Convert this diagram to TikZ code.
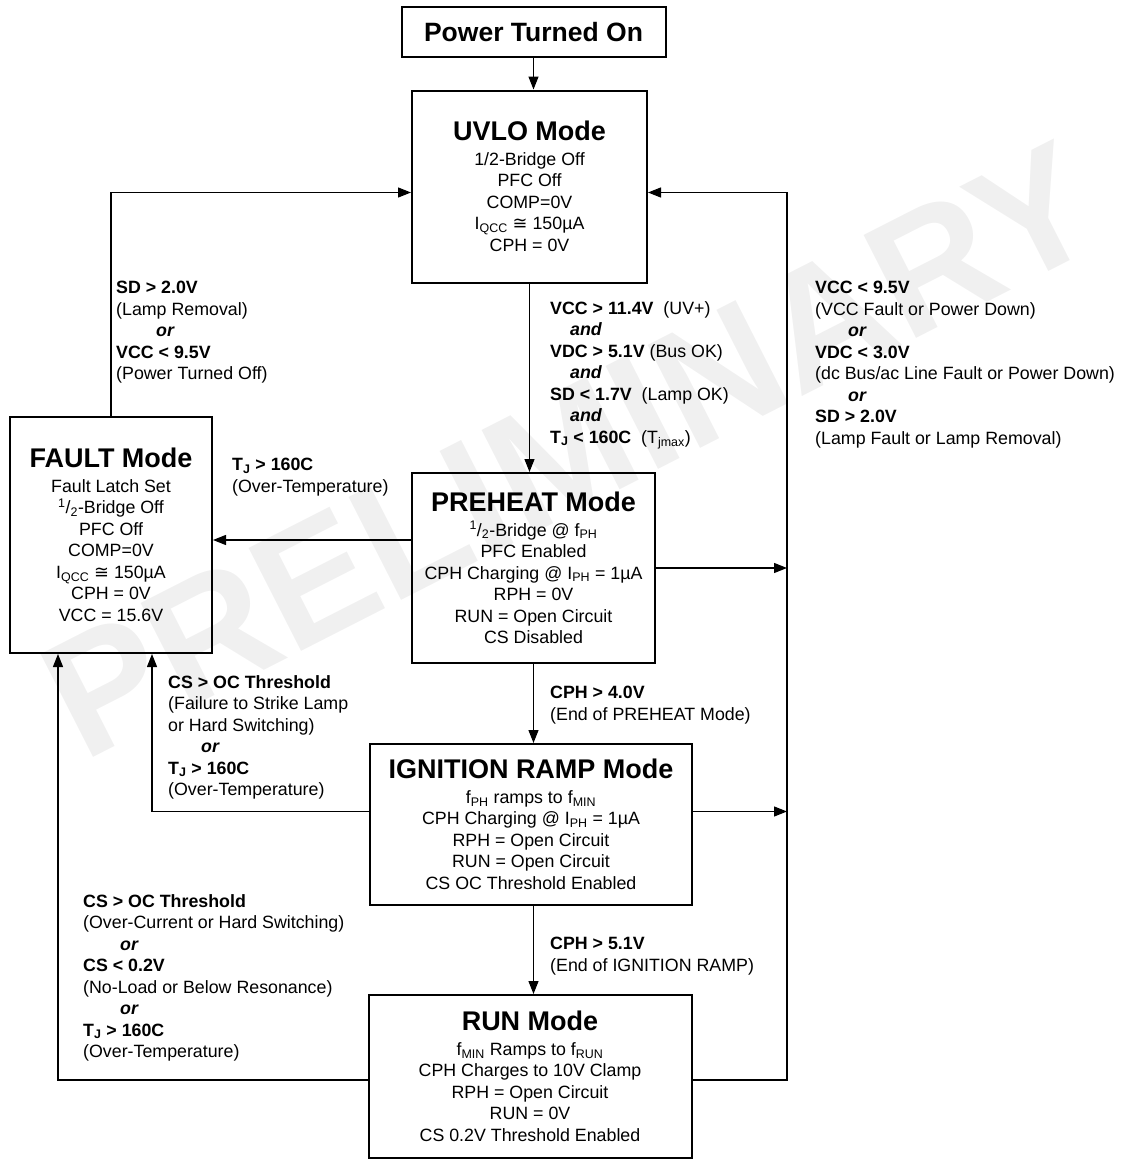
\documentclass[tikz,border=0pt]{standalone}
\usepackage{fontspec}
\setmainfont{Liberation Sans}
\newfontfamily\symf{DejaVu Sans}
\usetikzlibrary{arrows.meta}
\newcommand\ttl[1]{{\fontsize{27}{27}\selectfont\bfseries #1}\\[3pt]}
\newcommand\half{\textsuperscript{1}/\textsubscript{2}}
\newcommand\bi[1]{\textbf{\textit{#1}}}
\begin{document}
\begin{tikzpicture}[x=1pt,y=-1pt,
  box/.style={draw, line width=2pt, inner sep=0pt, align=center,
    font=\fontsize{17.8}{21.5}\selectfont},
  lbl/.style={anchor=north west, inner sep=0pt, align=left,
    font=\fontsize{17.8}{21.5}\selectfont},
  conn/.style={line width=1.2pt, -{Triangle[length=13pt,width=10pt]}}]
\useasboundingbox (0,0) rectangle (1125,1160);
% watermark
\node[rotate=27, text=black!6, font=\fontsize{168}{168}\selectfont\bfseries] (wm) at (570,450) {PRELIMINARY};
% boxes
\node[box, minimum width=264pt, minimum height=50pt, font=\fontsize{26.5}{26.5}\selectfont\bfseries] (power) at (533.5,32) {Power Turned On};
\node[box, minimum width=235pt, minimum height=192pt] (uvlo) at (529.5,186.5)
  {\ttl{UVLO Mode}1/2-Bridge Off\\PFC Off\\COMP=0V\\I\textsubscript{QCC} {\symf ≅} 150µA\\CPH = 0V};
\node[box, minimum width=202pt, minimum height=236pt] (fault) at (111,535)
  {\ttl{FAULT Mode}Fault Latch Set\\\half-Bridge Off\\PFC Off\\COMP=0V\\I\textsubscript{QCC} {\symf ≅} 150µA\\CPH = 0V\\VCC = 15.6V};
\node[box, minimum width=243pt, minimum height=190pt] (preheat) at (533.5,568)
  {\ttl{PREHEAT Mode}\half-Bridge @ f\textsubscript{PH}\\PFC Enabled\\CPH Charging @ I\textsubscript{PH} = 1µA\\RPH = 0V\\RUN = Open Circuit\\CS Disabled};
\node[box, minimum width=322pt, minimum height=161pt] (ign) at (531,824.5)
  {\ttl{IGNITION RAMP Mode}f\textsubscript{PH} ramps to f\textsubscript{MIN}\\CPH Charging @ I\textsubscript{PH} = 1µA\\RPH = Open Circuit\\RUN = Open Circuit\\CS OC Threshold Enabled};
\node[box, minimum width=323pt, minimum height=163pt] (run) at (530,1076.5)
  {\ttl{RUN Mode}f\textsubscript{MIN} Ramps to f\textsubscript{RUN}\\CPH Charges to 10V Clamp\\RPH = Open Circuit\\RUN = 0V\\CS 0.2V Threshold Enabled};
% coordinates
\coordinate (busb) at (787,1080);
\coordinate (ue) at ([yshift=-6pt]uvlo.east);
\coordinate (uw) at ([yshift=-6pt]uvlo.west);
\coordinate (re) at ([yshift=-3.5pt]run.east);
\coordinate (rw) at ([yshift=-3.5pt]run.west);
\coordinate (pw) at ([yshift=28pt]preheat.west);
\coordinate (ie) at ([yshift=13pt]ign.east);
\coordinate (iw) at ([yshift=13pt]ign.west);
\coordinate (fs1) at ([xshift=-53pt]fault.south);
\coordinate (fs2) at ([xshift=41pt]fault.south);
% connectors
\draw[conn] (power.south) -- (power.south |- uvlo.north);
\draw[conn] (uvlo.south) -- (uvlo.south |- preheat.north);
\draw[conn] (preheat.south) -- (preheat.south |- ign.north);
\draw[conn] (preheat.south |- ign.south) -- (preheat.south |- run.north);
\draw[conn] (fault.north) |- (uw);
\draw[conn] (re) -- (re -| busb) |- (ue);
\draw[conn] (preheat.east) -- (preheat.east -| busb);
\draw[conn] (ie) -- (ie -| busb);
\draw[conn] (pw) -- (pw -| fault.east);
\draw[conn] (iw) -| (fs2);
\draw[conn] (rw) -| (fs1);
% labels
\node[lbl] (l1) at (116,281) {\textbf{SD > 2.0V}\\(Lamp Removal)\\\hspace*{40pt}\bi{or}\\\textbf{VCC < 9.5V}\\(Power Turned Off)};
\node[lbl] (l2) at (550,301) {\textbf{VCC > 11.4V}\ \ (UV+)\\\hspace*{20pt}\bi{and}\\\textbf{VDC > 5.1V} (Bus OK)\\\hspace*{20pt}\bi{and}\\\textbf{SD < 1.7V}\ \ (Lamp OK)\\\hspace*{20pt}\bi{and}\\\textbf{T\textsubscript{J} < 160C}\ \ (T\textsubscript{jmax})};
\node[lbl] (l3) at (815,281) {\textbf{VCC < 9.5V}\\(VCC Fault or Power Down)\\\hspace*{33pt}\bi{or}\\\textbf{VDC < 3.0V}\\(dc Bus/ac Line Fault or Power Down)\\\hspace*{33pt}\bi{or}\\\textbf{SD > 2.0V}\\(Lamp Fault or Lamp Removal)};
\node[lbl] (l4) at (232,458) {\textbf{T\textsubscript{J} > 160C}\\(Over-Temperature)};
\node[lbl] (l5) at (168,675) {\textbf{CS > OC Threshold}\\(Failure to Strike Lamp\\or Hard Switching)\\\hspace*{33pt}\bi{or}\\\textbf{T\textsubscript{J} > 160C}\\(Over-Temperature)};
\node[lbl] (l6) at (550,686) {\textbf{CPH > 4.0V}\\(End of PREHEAT Mode)};
\node[lbl] (l7) at (83,894) {\textbf{CS > OC Threshold}\\(Over-Current or Hard Switching)\\\hspace*{37pt}\bi{or}\\\textbf{CS < 0.2V}\\(No-Load or Below Resonance)\\\hspace*{37pt}\bi{or}\\\textbf{T\textsubscript{J} > 160C}\\(Over-Temperature)};
\node[lbl] (l8) at (550,937) {\textbf{CPH > 5.1V}\\(End of IGNITION RAMP)};
\end{tikzpicture}
\end{document}
